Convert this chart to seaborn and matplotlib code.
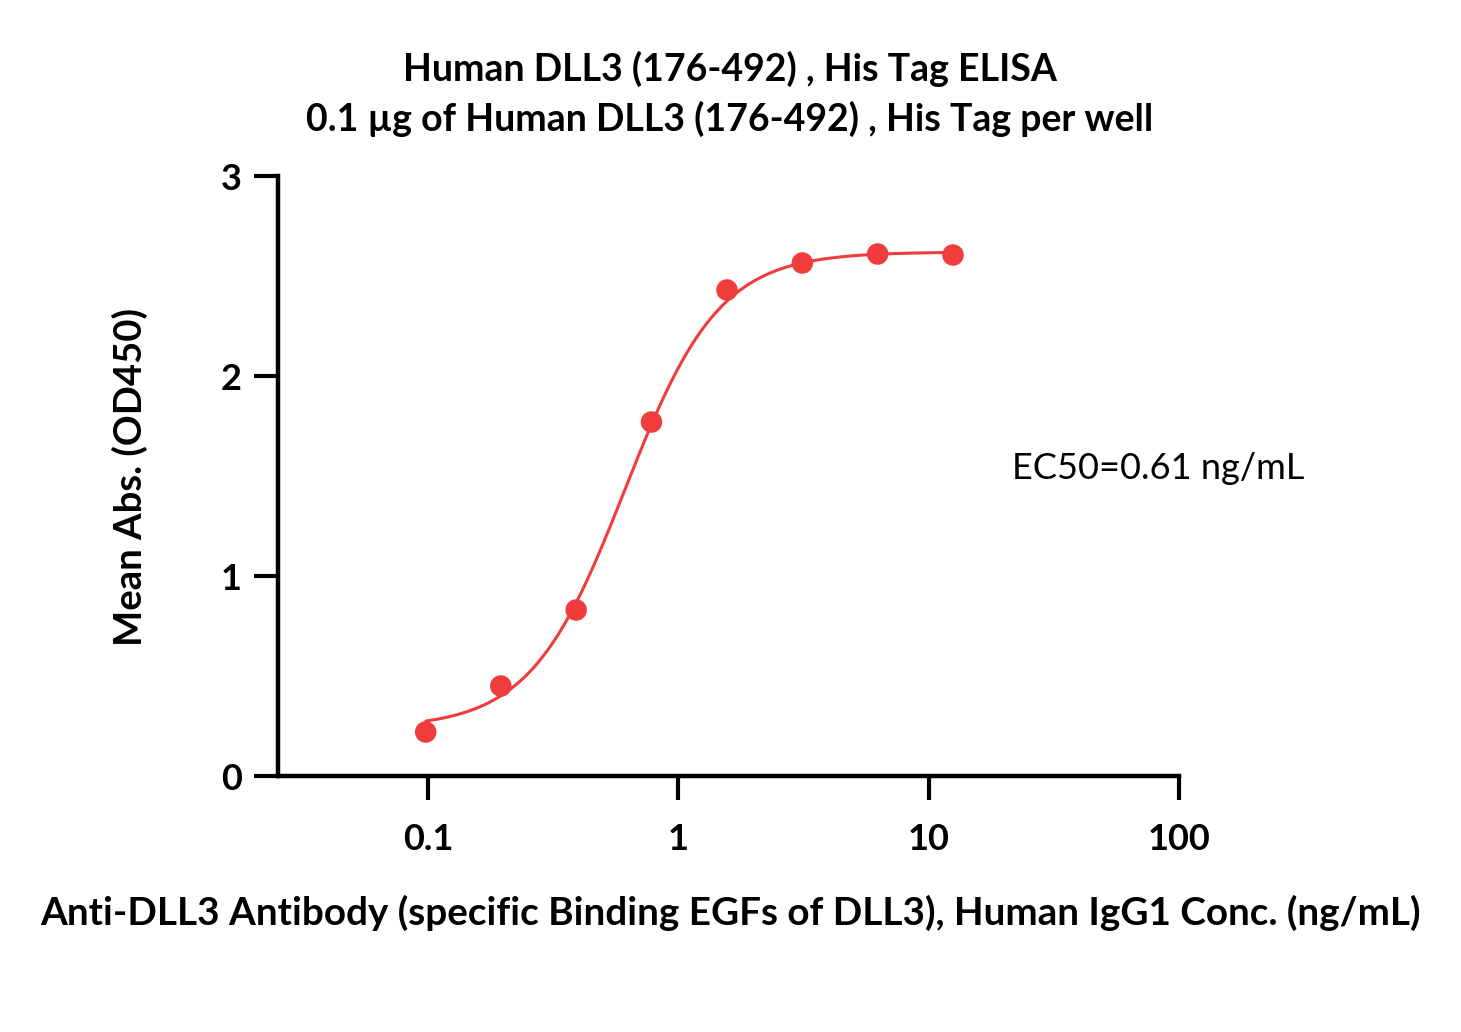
import numpy as np
import pandas as pd
import matplotlib
matplotlib.use("Agg")
import matplotlib.pyplot as plt
import seaborn as sns
from matplotlib.ticker import FixedLocator, NullLocator

conc = [0.0977, 0.195, 0.39, 0.78, 1.5625, 3.125, 6.25, 12.5]
od450 = [0.22, 0.45, 0.83, 1.77, 2.43, 2.565, 2.61, 2.605]

# four-parameter logistic fit shown in the picture
fit_bottom = 0.24
fit_top = 2.62
fit_ec50 = 0.61
fit_hill = 2.3

xtick_vals = [0.1, 1, 10, 100]
xtick_labels = ["0.1", "1", "10", "100"]
ytick_vals = [0, 1, 2, 3]

RED = "#F03C3C"

sns.set_theme(style="white")
plt.rcParams["font.family"] = ["Lato", "DejaVu Sans"]
plt.rcParams["text.color"] = "black"

W, H = 1461, 1032
fig = plt.figure(figsize=(W / 100, H / 100), dpi=100)
ax = fig.add_axes([278 / W, 1 - 776 / H, (1179 - 278) / W, (776 - 176) / H])

df = pd.DataFrame({"conc": conc, "od": od450})
xs = np.logspace(np.log10(conc[0]), np.log10(conc[-1]), 300)
fit = pd.DataFrame({
    "conc": xs,
    "od": fit_bottom + (fit_top - fit_bottom) / (1 + (fit_ec50 / xs) ** fit_hill),
})

sns.lineplot(data=fit, x="conc", y="od", color=RED, linewidth=2.2, ax=ax)
sns.scatterplot(data=df, x="conc", y="od", color=RED, s=240, edgecolor="none",
                ax=ax, zorder=3)

ax.set_xscale("log")
ax.set_xlim(0.0251, 100)
ax.set_ylim(0, 3)
ax.xaxis.set_major_locator(FixedLocator(xtick_vals))
ax.xaxis.set_minor_locator(NullLocator())
ax.set_xticklabels(xtick_labels)
ax.set_yticks(ytick_vals)
ax.set_xlabel("")
ax.set_ylabel("")

for side in ["top", "right"]:
    ax.spines[side].set_visible(False)
for side in ["left", "bottom"]:
    ax.spines[side].set_linewidth(3.2)
    ax.spines[side].set_color("black")

ax.tick_params(axis="both", which="major", direction="out", length=17, width=3,
               color="black", labelcolor="black", labelsize=26,
               bottom=True, left=True)
ax.tick_params(axis="x", pad=17)
ax.tick_params(axis="y", pad=9)
for lab in ax.get_xticklabels() + ax.get_yticklabels():
    lab.set_fontweight("bold")

fig.text(730 / W, 1 - 69 / H, "Human DLL3 (176-492) , His Tag ELISA",
         ha="center", va="center", fontsize=27, fontweight="bold")
fig.text(730 / W, 1 - 119 / H, "0.1 µg of Human DLL3 (176-492) , His Tag per well",
         ha="center", va="center", fontsize=27, fontweight="bold")
fig.text(130 / W, 1 - 477 / H, "Mean Abs. (OD450)", rotation=90,
         ha="center", va="center", fontsize=27.5, fontweight="bold")
fig.text(730 / W, 1 - 913 / H,
         "Anti-DLL3 Antibody (specific Binding EGFs of DLL3), Human IgG1 Conc. (ng/mL)",
         ha="center", va="center", fontsize=27.8, fontweight="bold")
fig.text(1012 / W, 1 - 469 / H, "EC50=0.61 ng/mL",
         ha="left", va="center", fontsize=26)

fig.savefig("out.png", dpi=100, facecolor="white")
